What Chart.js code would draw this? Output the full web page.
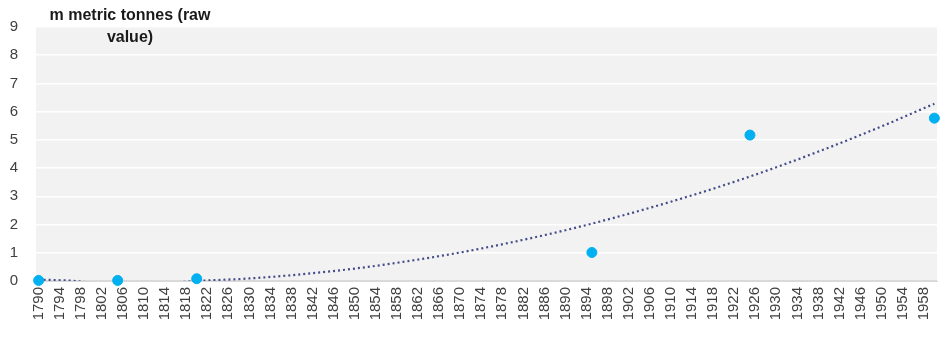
<!DOCTYPE html>
<html>
<head>
<meta charset="utf-8">
<script src="https://cdn.jsdelivr.net/npm/chart.js@4"></script>
<style>
  html, body { margin: 0; padding: 0; background: #ffffff; }
  #wrap { width: 948px; height: 340px; }
</style>
</head>
<body>
<div id="wrap"><canvas id="chartTonnes" width="948" height="340"></canvas></div>
<script>
// Valores observados (millones de toneladas)
const years = [1790, 1805, 1820, 1895, 1925, 1960];
const tonnes = [0.02, 0.02, 0.08, 1.01, 5.17, 5.77];

// Línea de tendencia (bajo cero queda oculta)
const trendYears = [1790, 1797, 1800, 1808, 1815, 1820, 1830, 1840, 1850, 1860, 1870, 1880, 1890, 1900, 1910, 1920, 1930, 1940, 1950, 1960];
const trendValues = [0.05, 0.0, -0.06, -0.08, -0.06, 0.0, 0.09, 0.24, 0.44, 0.70, 1.01, 1.38, 1.80, 2.28, 2.81, 3.39, 4.03, 4.73, 5.48, 6.28];

// Etiquetas del eje X (cada 4 años) y del eje Y
const xTickLabels = [];
for (let y = 1790; y <= 1958; y += 4) xTickLabels.push(y);
const yTickLabels = [0, 1, 2, 3, 4, 5, 6, 7, 8, 9];

const titleLines = ['m metric tonnes (raw', 'value)'];

// Fondo gris del área del gráfico
const plotBackground = {
  id: 'plotBackground',
  beforeDraw(chart) {
    const { ctx, chartArea } = chart;
    ctx.save();
    ctx.fillStyle = '#F2F2F2';
    ctx.fillRect(chartArea.left, chartArea.top, chartArea.right - chartArea.left, chartArea.bottom - chartArea.top);
    ctx.restore();
  }
};

// Título del eje Y dibujado encima del área
const axisTitle = {
  id: 'axisTitle',
  afterDraw(chart) {
    const { ctx } = chart;
    ctx.save();
    ctx.font = 'bold 16px "Liberation Sans", Arial, sans-serif';
    ctx.fillStyle = '#1A1A1A';
    ctx.textAlign = 'center';
    ctx.textBaseline = 'middle';
    ctx.fillText(titleLines[0], 130, 16);
    ctx.fillText(titleLines[1], 130, 38);
    ctx.restore();
  }
};

new Chart(document.getElementById('chartTonnes'), {
  data: {
    datasets: [
      {
        type: 'scatter',
        label: 'm metric tonnes',
        data: years.map((x, i) => ({ x, y: tonnes[i] })),
        backgroundColor: '#00B0F0',
        borderColor: '#00B0F0',
        pointRadius: 5,
        pointHoverRadius: 5,
        clip: false,
        order: 0
      },
      {
        type: 'line',
        label: 'Tendencia',
        data: trendYears.map((x, i) => ({ x, y: trendValues[i] })),
        borderColor: '#444C88',
        borderWidth: 2.2,
        borderDash: [2, 3],
        pointRadius: 0,
        fill: false,
        cubicInterpolationMode: 'monotone',
        clip: 0,
        order: 1
      }
    ]
  },
  options: {
    responsive: false,
    animation: false,
    layout: { padding: { top: 27, right: 11, left: 0, bottom: 0 } },
    plugins: {
      legend: { display: false },
      tooltip: { enabled: false }
    },
    scales: {
      x: {
        type: 'linear',
        min: 1789.5,
        max: 1960.5,
        afterBuildTicks: (scale) => { scale.ticks = xTickLabels.map(v => ({ value: v })); },
        afterFit: (scale) => { scale.height = 59; },
        grid: { display: false, drawTicks: false },
        border: { display: true, color: '#D9D9D9', width: 1 },
        ticks: {
          autoSkip: false,
          minRotation: 90,
          maxRotation: 90,
          padding: 6,
          color: '#404040',
          font: { family: '"Liberation Sans", Arial, sans-serif', size: 15 },
          callback: (v) => String(v)
        }
      },
      y: {
        min: 0,
        max: 9,
        afterBuildTicks: (scale) => { scale.ticks = yTickLabels.map(v => ({ value: v })); },
        afterFit: (scale) => { scale.width = 36; },
        grid: {
          drawTicks: false,
          color: (c) => c.tick && c.tick.value === 0 ? '#D9D9D9' : '#FFFFFF',
          lineWidth: 1.5
        },
        border: { display: false },
        ticks: {
          padding: 18,
          color: '#404040',
          font: { family: '"Liberation Sans", Arial, sans-serif', size: 15 }
        }
      }
    }
  },
  plugins: [plotBackground, axisTitle]
});
</script>
</body>
</html>
